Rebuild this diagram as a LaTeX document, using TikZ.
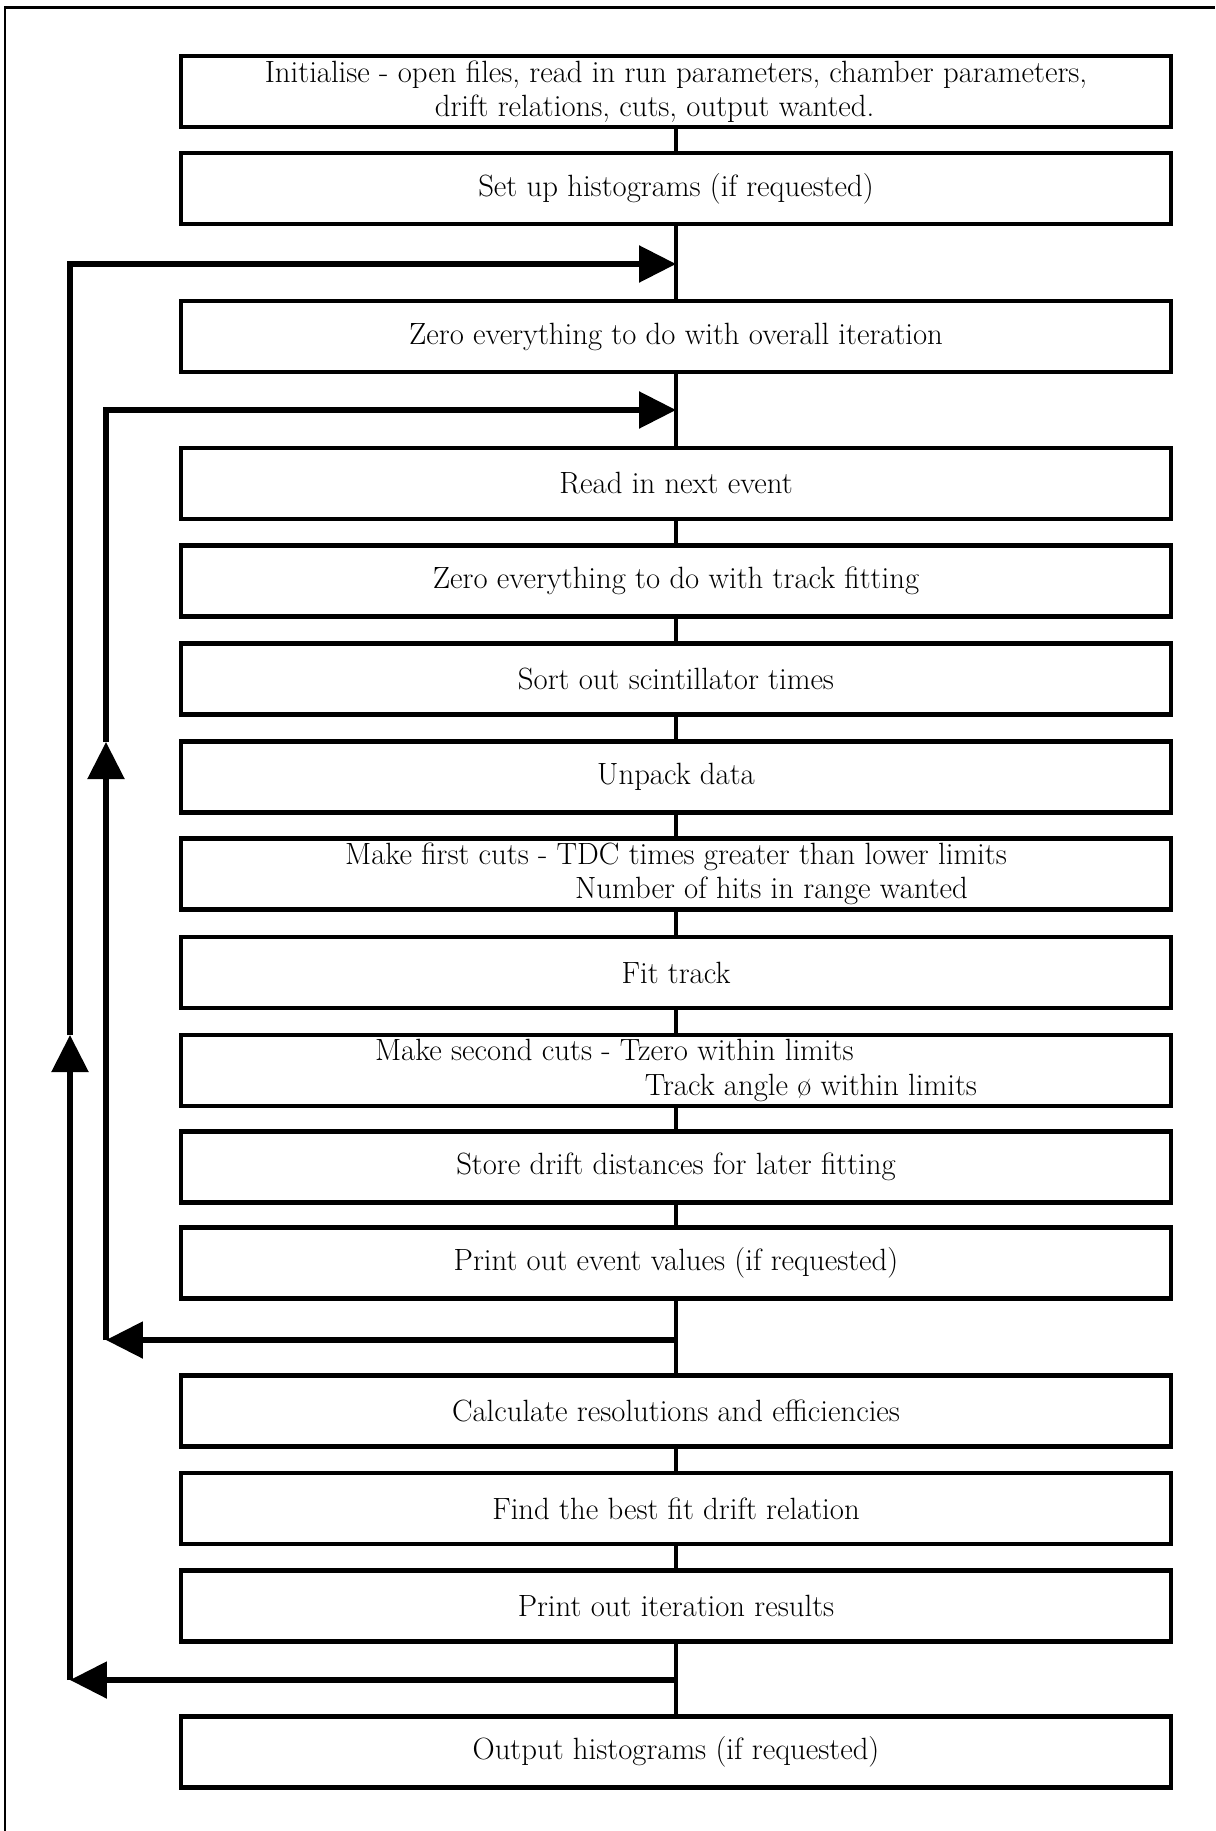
\documentclass[tikz,border=0pt]{standalone}
\usepackage{tikz}
\usetikzlibrary{arrows.meta}

\begin{document}
\begin{tikzpicture}[x=0.02cm,y=-0.02cm,
  stage/.style={draw,line width=0.09cm,minimum width=19.8cm,minimum height=1.42cm,
    inner sep=0pt,font=\fontsize{17.5}{19.5}\selectfont},
  link/.style={line width=0.07cm},
  loopline/.style={line width=0.11cm},
  tip/.style={-{Triangle[length=0.74cm,width=0.72cm]}}]
  \useasboundingbox (0,0) rectangle (1215,1831);
  \draw[line width=0.06cm] (5,1831) -- (5,8) -- (1215,8);
  \node[stage,align=left] (init) at (676,91.5) {Initialise - open files, read in run parameters, chamber parameters,\\\hspace*{3.4cm}drift relations, cuts, output wanted.};
  \node[stage] (setup) at (676,188.5) {Set up histograms (if requested)};
  \node[stage] (zeroall) at (676,336.5) {Zero everything to do with overall iteration};
  \node[stage] (read) at (676,483.5) {Read in next event};
  \node[stage] (zerotrack) at (676,581) {Zero everything to do with track fitting};
  \node[stage] (scint) at (676,679) {Sort out scintillator times};
  \node[stage] (unpack) at (676,777) {Unpack data};
  \node[stage,align=left] (cutone) at (676,874) {Make first cuts - TDC times greater than lower limits\\\hspace*{4.6cm}Number of hits in range wanted};
  \node[stage] (fit) at (676,972.5) {Fit track};
  \node[stage,align=left] (cuttwo) at (676,1070.5) {Make second cuts - Tzero within limits\\\hspace*{5.4cm}Track angle {\o} within limits};
  \node[stage] (store) at (676,1167) {Store drift distances for later fitting};
  \node[stage] (printev) at (676,1263) {Print out event values (if requested)};
  \node[stage] (calc) at (676,1411) {Calculate resolutions and efficiencies};
  \node[stage] (best) at (676,1508.5) {Find the best fit drift relation};
  \node[stage] (printit) at (676,1606) {Print out iteration results};
  \node[stage] (output) at (676,1752) {Output histograms (if requested)};

  \draw[link] (init) -- (setup) -- (zeroall) -- (read) -- (zerotrack) -- (scint) -- (unpack)
    -- (cutone) -- (fit) -- (cuttwo) -- (store) -- (printev) -- (calc) -- (best) -- (printit) -- (output);

  \coordinate (outerin) at (676,264);
  \coordinate (outerout) at (676,1680);
  \coordinate (outerbot) at (70,1680);
  \coordinate (outerup) at (70,1035);
  \coordinate (outertop) at (70,264);
  \coordinate (innerin) at (676,410);
  \coordinate (innerout) at (676,1340);
  \coordinate (innerbot) at (106,1340);
  \coordinate (innerup) at (106,742);
  \coordinate (innertop) at (106,410);

  \draw[loopline,tip] (outerout) -- (outerbot);
  \draw[loopline,tip] (outerbot) -- (outerup);
  \draw[loopline,tip] (outerup) -- (outertop) -- (outerin);
  \draw[loopline,tip] (innerout) -- (innerbot);
  \draw[loopline,tip] (innerbot) -- (innerup);
  \draw[loopline,tip] (innerup) -- (innertop) -- (innerin);
\end{tikzpicture}
\end{document}
